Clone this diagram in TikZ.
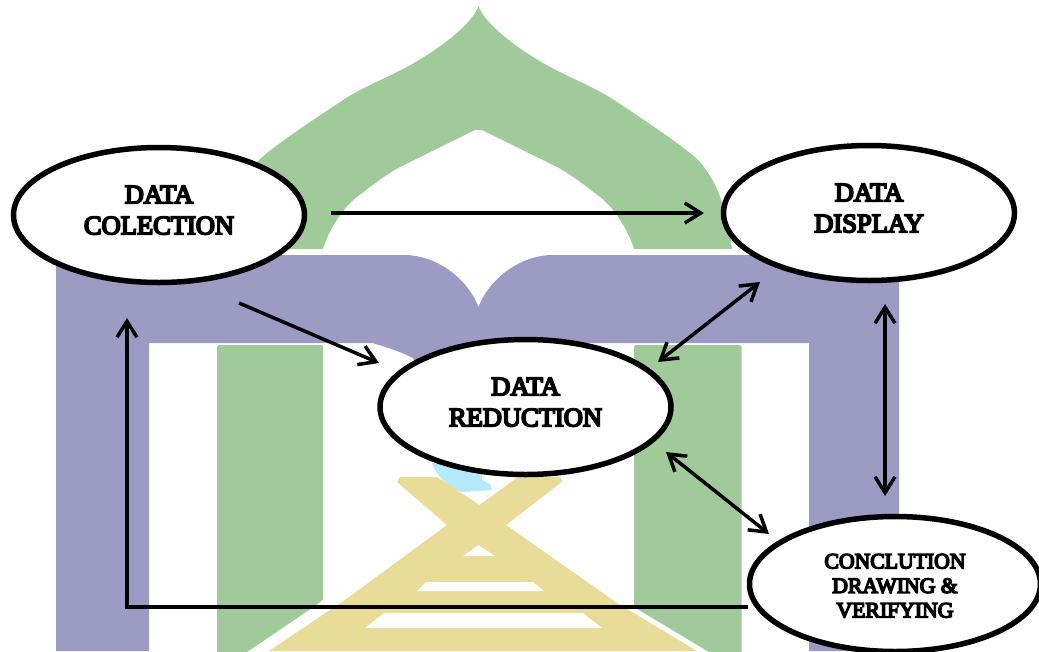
\documentclass[tikz,border=0pt]{standalone}
\usepackage{fontspec}
\usetikzlibrary{shapes.geometric,arrows.meta,calc}
\newfontfamily\dgmfont{Liberation Serif}[FakeBold=7]
\definecolor{logopurple}{RGB}{155,155,196}
\definecolor{logogreen}{RGB}{161,202,155}
\definecolor{logoyellow}{RGB}{233,219,152}
\definecolor{logoblue}{RGB}{181,233,251}
\tikzset{
  stage/.style={ellipse,draw=black,fill=white,line width=5.5pt,inner sep=0pt,outer sep=0pt,
    minimum width=291pt,minimum height=135pt,align=center,
    font=\dgmfont\fontsize{26.5}{31}\selectfont},
  smallstage/.style={stage,font=\dgmfont\fontsize{21.7}{24.5}\selectfont},
  conn/.style={draw=black,line width=3.5pt,line join=miter},
  onearrow/.style={conn,-{Straight Barb[length=16pt,width=20pt,line width=3.5pt]}},
  twoarrow/.style={conn,{Straight Barb[length=16pt,width=20pt,line width=3.5pt]}-{Straight Barb[length=16pt,width=20pt,line width=3.5pt]}}
}
\begin{document}
\begin{tikzpicture}[x=1pt,y=-1pt]
\useasboundingbox (0,0) rectangle (1039,651);
\clip (0,0) rectangle (1039,651);
% background logo
\fill[logogreen] (225,249) .. controls (230,210) and (240,180) .. (259,160)
  .. controls (275,145) and (310,122) .. (343,100)
  .. controls (365,85.5) and (390,77) .. (414,63)
  .. controls (450,42) and (474,20) .. (478.5,6)
  .. controls (483,20) and (507,42) .. (543,63)
  .. controls (567,77) and (592,85.5) .. (614,100)
  .. controls (647,122) and (682,145) .. (698,160)
  .. controls (717,180) and (727,210) .. (732,249)
  -- (634,249) .. controls (630,235) and (617,210) .. (600,197)
  .. controls (587,187) and (572,175) .. (557,167)
  -- (482,130) -- (475,130) -- (400,167)
  .. controls (385,175) and (370,187) .. (357,197)
  .. controls (340,210) and (327,235) .. (323,249) -- cycle;
\fill[logopurple] (56,651) -- (56,255) -- (407,255)
  .. controls (440,257) and (468,280) .. (478.5,307)
  .. controls (489,280) and (517,257) .. (550,255)
  -- (899,255) -- (899,651) -- (809,651) -- (809,343) -- (520,343) -- (520,375) -- (420,375) -- (413,358)
  .. controls (403,353) and (390,348) .. (372,343)
  -- (149,343) -- (149,651) -- cycle;
\fill[logogreen,rounded corners=2pt] (217,345) rectangle (323,660);
\fill[logogreen,rounded corners=2pt] (634,345) rectangle (741.5,660);
\fill[white] (240,657) -- (315,606) -- (478,480) -- (632,606) -- (717,657) -- cycle;
\fill[logoblue] (432,463) .. controls (436,475) and (448,488) .. (462,492) -- (492,490)
  -- (490,484) -- (482,480) -- (482,470) -- (520,470) -- cycle;
\fill[logoyellow] (400,477) -- (437,477) -- (479.5,505) -- (518,477) -- (560,477) -- (563,481)
  -- (506,525) -- (617,603) -- (697,651) -- (269,651) -- (345,600) -- (447,525) -- (397,482) -- cycle;
\fill[white] (478.6,545) -- (495,556) -- (463,556) -- cycle;
\fill[white] (426,582) -- (533,582) -- (544,591) -- (417,591) -- cycle;
\fill[white] (384,613) -- (583,613) -- (602,628) -- (365,628) -- cycle;
% nodes
\node[stage] (col) at (159,215) {DATA\\COLECTION\\[-21pt]\mbox{}};
\node[stage] (disp) at (869,213) {DATA\\DISPLAY\\[-21pt]\mbox{}};
\node[stage] (red) at (525.5,407) {DATA\\REDUCTION\\[-21pt]\mbox{}};
\node[smallstage] (conc) at (895,584) {\mbox{}\\[-6.5pt]CONCLUTION\\DRAWING \&\\VERIFYING};
% connectors
\draw[onearrow] ($(col)+(172,-2)$) -- ($(disp)+(-165,0)$);
\draw[onearrow] ($(col)+(80,88)$) -- ($(red)+(-146.5,-44)$);
\draw[twoarrow] ($(red)+(132.5,-45)$) -- ($(disp)+(-109,69)$);
\draw[twoarrow] ($(disp)+(16,91)$) -- ($(conc)+(-10,-88)$);
\draw[twoarrow] ($(red)+(140.5,45)$) -- ($(conc)+(-126,-50)$);
\draw[onearrow] ($(conc)+(-147,23)$) -| ($(col)+(-32,103)$);
\end{tikzpicture}
\end{document}
